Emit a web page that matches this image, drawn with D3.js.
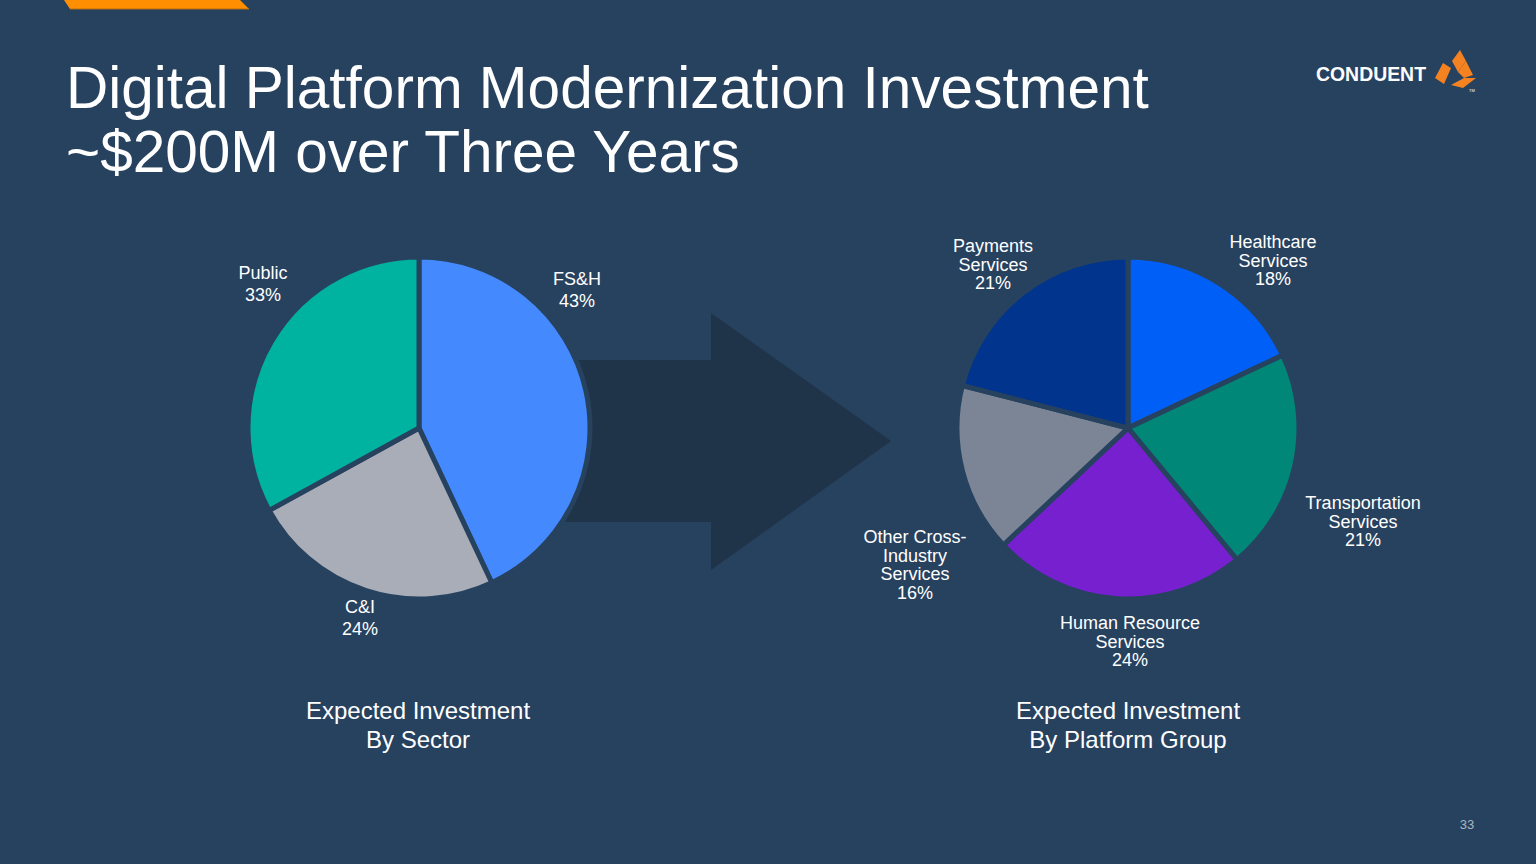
<!DOCTYPE html>
<html>
<head>
<meta charset="utf-8">
<script src="https://cdn.jsdelivr.net/npm/d3@7"></script>
<style>
  html, body { margin: 0; padding: 0; background: #27425f; }
  svg { display: block; }
  text { font-family: "Liberation Sans", Arial, sans-serif; fill: #ffffff; }
</style>
</head>
<body>
<svg id="chart" width="1536" height="864"></svg>
<script>
// ---- data ----
const sectorCategories = ["FS&H", "C&I", "Public"];
const sectorValues = [43, 24, 33];
const sectorColors = ["#4589ff", "#a9adb8", "#00b3a1"];

const platformCategories = ["Healthcare Services", "Transportation Services", "Human Resource Services", "Other Cross-Industry Services", "Payments Services"];
const platformValues = [18, 21, 24, 16, 21];
const platformColors = ["#005ff7", "#008778", "#7620d0", "#7b8595", "#00348d"];

const titleLines = ["Digital Platform Modernization Investment", "~$200M over Three Years"];

// ---- layout ----
const W = 1536, H = 864, BG = "#27425f";
const svg = d3.select("#chart");
svg.append("rect").attr("width", W).attr("height", H).attr("fill", BG);

// orange accent bar top-left
svg.append("polygon")
  .attr("points", [[64,0],[240,0],[249,9],[70,9]].map(p => p.join(",")).join(" "))
  .attr("fill", "#ff8f00");
svg.append("line").attr("x1", 70).attr("y1", 9).attr("x2", 249).attr("y2", 9)
  .attr("stroke", "#b86a10").attr("stroke-width", 1);

// title
svg.selectAll("text.title").data(titleLines).join("text")
  .attr("class", "title")
  .attr("x", 66).attr("y", (d, i) => 108 + i * 64)
  .attr("font-size", 58.5)
  .text(d => d);

// logo
svg.append("text").attr("x", 1316).attr("y", 81)
  .attr("font-size", 19.5).attr("font-weight", "bold")
  .attr("textLength", 110).attr("lengthAdjust", "spacingAndGlyphs")
  .text("CONDUENT");
const logo = svg.append("g").attr("fill", "#f58220");
[
  [[1452,61],[1460,50],[1466,61],[1458,72]],
  [[1435,78],[1443,63],[1451,68],[1444,84]],
  [[1451,85],[1464,78],[1476,78],[1463,88]],
  [[1458,72],[1466,61],[1473,75],[1464,78]]
].forEach(pts => logo.append("polygon").attr("points", pts.map(p => p.join(",")).join(" ")));
svg.append("text").attr("x", 1469).attr("y", 92).attr("font-size", 4).attr("fill", "#cfd6df").text("TM");

// arrow
svg.append("polygon")
  .attr("points", [[565,360],[711,360],[711,313],[891,441],[711,570],[711,522],[565,522]].map(p => p.join(",")).join(" "))
  .attr("fill", "#1f3349");

// pies
const R = 171;
function drawPie(cx, cy, values, colors) {
  const pie = d3.pie().sort(null).value(d => d)(values);
  const arc = d3.arc().innerRadius(0).outerRadius(R);
  const g = svg.append("g").attr("transform", `translate(${cx},${cy})`);
  g.selectAll("path").data(pie).join("path")
    .attr("d", arc)
    .attr("fill", (d, i) => colors[i])
    .attr("stroke", BG).attr("stroke-width", 5).attr("stroke-linejoin", "round");
  return g;
}
drawPie(419, 428, sectorValues, sectorColors);
drawPie(1128, 428, platformValues, platformColors);

// labels
function label(x, y, lines, lh) {
  const t = svg.append("text").attr("text-anchor", "middle").attr("font-size", 18);
  lines.forEach((l, i) => t.append("tspan").attr("x", x).attr("y", y + i * lh).text(l));
}
const pct = v => v + "%";
label(577, 285, [sectorCategories[0], pct(sectorValues[0])], 21.5);
label(360, 613, [sectorCategories[1], pct(sectorValues[1])], 21.5);
label(263, 279, [sectorCategories[2], pct(sectorValues[2])], 21.5);

label(1273, 248, ["Healthcare", "Services", pct(platformValues[0])], 18.5);
label(1363, 509, ["Transportation", "Services", pct(platformValues[1])], 18.5);
label(1130, 629, ["Human Resource", "Services", pct(platformValues[2])], 18.5);
label(915, 543, ["Other Cross-", "Industry", "Services", pct(platformValues[3])], 18.5);
label(993, 252, ["Payments", "Services", pct(platformValues[4])], 18.5);

// captions
function caption(x, lines) {
  const t = svg.append("text").attr("text-anchor", "middle").attr("font-size", 24);
  lines.forEach((l, i) => t.append("tspan").attr("x", x).attr("y", 719 + i * 29).text(l));
}
caption(418, ["Expected Investment", "By Sector"]);
caption(1128, ["Expected Investment", "By Platform Group"]);

// page number
svg.append("text").attr("x", 1467).attr("y", 829).attr("text-anchor", "middle")
  .attr("font-size", 13).style("fill", "#a9b6c6").text("33");
</script>
</body>
</html>
